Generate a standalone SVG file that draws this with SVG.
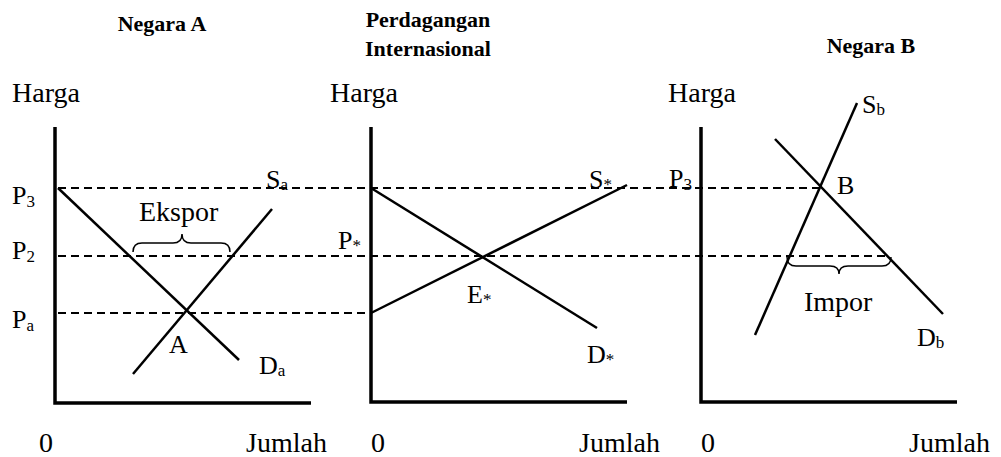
<svg xmlns="http://www.w3.org/2000/svg" width="1001" height="457" viewBox="0 0 1001 457">
<style>
text{font-family:"Liberation Serif","Times New Roman",serif;fill:#000}
.t{font-weight:bold;font-size:22px;text-anchor:middle}
.l{font-size:28px}
.s{font-size:26px}
.sub{font-size:17px}
.ax{stroke:#000;stroke-width:3.5;fill:none}
.c{stroke:#000;stroke-width:2.5;fill:none}
.d{stroke:#000;stroke-width:2;stroke-dasharray:8 5;fill:none}
.b{stroke:#000;stroke-width:1.5;fill:none}
</style>
<rect width="1001" height="457" fill="#fff"/>
<g id="titles">
<text class="t" x="162" y="31">Negara A</text>
<text class="t" x="428" y="27">Perdagangan</text>
<text class="t" x="428" y="56">Internasional</text>
<text class="t" x="871" y="53">Negara B</text>
</g>
<g id="connectors">
<path class="d" d="M58,188 H821"/>
<path class="d" d="M58,256 H889"/>
<path class="d" d="M58,313 H371"/>
<path class="ax" d="M55,127 V403 H311"/>
<path class="ax" d="M371,127 V402 H627"/>
<path class="ax" d="M701,127 V402 H957"/>
<path class="c" d="M58,188 L239,360"/>
<path class="c" d="M133,374 L272,209"/>
<path class="c" d="M371,188 L597,328"/>
<path class="c" d="M371,313 L627,185"/>
<path class="c" d="M775,139 L943,314"/>
<path class="c" d="M755,335 L857,103"/>
<path class="b" d="M133,252 Q133,243 142,243 H173 Q182,243 182,234 Q182,243 191,243 H221 Q230,243 230,252"/>
<path class="b" d="M787,257 Q787,266 796,266 H830 Q839,266 839,274 Q839,266 848,266 H882 Q891,266 891,257"/>
</g>
<g id="panel-a">
<text class="l" x="12" y="102">Harga</text>
<text class="l" x="39" y="452">0</text>
<text class="l" x="246" y="452">Jumlah</text>
<text class="s" x="12" y="204">P<tspan class="sub" dy="3">3</tspan></text>
<text class="s" x="12" y="259">P<tspan class="sub" dy="3">2</tspan></text>
<text class="s" x="12" y="328">P<tspan class="sub" dy="3">a</tspan></text>
<text class="s" x="266" y="188">S<tspan class="sub" dy="2">a</tspan></text>
<text class="l" x="139" y="221">Ekspor</text>
<text class="s" x="169" y="353">A</text>
<text class="s" x="259" y="374">D<tspan class="sub" dy="2">a</tspan></text>
</g>
<g id="panel-int">
<text class="l" x="330" y="102">Harga</text>
<text class="l" x="371" y="452">0</text>
<text class="l" x="579" y="452">Jumlah</text>
<text class="s" x="338" y="249">P<tspan class="sub" dy="2">*</tspan></text>
<text class="s" x="589" y="188">S<tspan class="sub" dy="2">*</tspan></text>
<text class="s" x="467" y="303">E<tspan class="sub" dy="2">*</tspan></text>
<text class="s" x="587" y="363">D<tspan class="sub" dy="2">*</tspan></text>
</g>
<g id="panel-b">
<text class="l" x="668" y="102">Harga</text>
<text class="l" x="701" y="452">0</text>
<text class="l" x="909" y="452">Jumlah</text>
<text class="s" x="669" y="187">P<tspan class="sub" dy="3">3</tspan></text>
<text class="s" x="837" y="194">B</text>
<text class="s" x="862" y="113">S<tspan class="sub" dy="2">b</tspan></text>
<text class="s" x="917" y="346">D<tspan class="sub" dy="2">b</tspan></text>
<text class="l" x="804" y="311">Impor</text>
</g>
</svg>
